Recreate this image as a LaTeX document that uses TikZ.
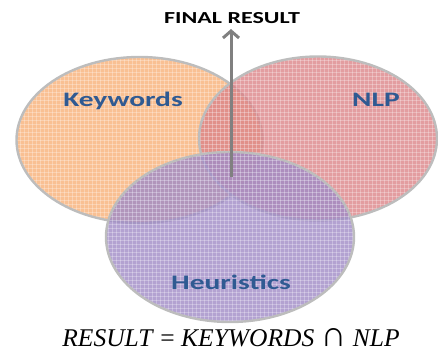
\documentclass[tikz,border=0pt]{standalone}
\usepackage{fontspec}
\setmainfont{Liberation Serif}
\newfontfamily\labelfont{Carlito}
\usetikzlibrary{arrows.meta}

\definecolor{kwfill}{HTML}{F8B078}
\definecolor{nlpfill}{HTML}{DC8488}
\definecolor{heufill}{HTML}{A08BC6}
\definecolor{rimgray}{HTML}{BDBDBD}
\definecolor{labelblue}{HTML}{2F5A92}
\definecolor{arrowgray}{HTML}{808080}

\tikzset{
  setarea/.style={fill=#1, fill opacity=0.8, draw=none},
  setrim/.style={draw=rimgray, line width=2.4pt},
  gridline/.style={draw=white, draw opacity=0.28, line width=0.7pt},
  setlabel/.style={font=\labelfont\bfseries\fontsize{20.6}{24}\selectfont,
                   text=labelblue, xscale=1.43, anchor=base, inner sep=0pt},
  titlelabel/.style={font=\labelfont\bfseries\fontsize{16.8}{20}\selectfont,
                     text=black, xscale=1.43, anchor=base, inner sep=0pt},
  formula/.style={font=\fontsize{25.5}{30}\selectfont, anchor=base, inner sep=0pt},
  resultarrow/.style={draw=arrowgray, line width=3pt,
                      -{Straight Barb[length=7pt,width=16pt]}}
}

% one hatched set: fill, light grid clipped to the ellipse, then the rim
\newcommand\hatchedset[4]{%
  \path[setarea=#4] (#1) ellipse [x radius=#2, y radius=#3];
  \begin{scope}
    \clip (#1) ellipse [x radius=#2, y radius=#3];
    \foreach \gx in {0,4,...,440} \draw[gridline] (\gx,0) -- (\gx,353);
    \foreach \gy in {0,4,...,356} \draw[gridline] (0,\gy) -- (438,\gy);
  \end{scope}
  \draw[setrim] (#1) ellipse [x radius=#2, y radius=#3];
}

\begin{document}
\begin{tikzpicture}[x=1pt,y=-1pt]
  \useasboundingbox (0,0) rectangle (438,353);

  \coordinate (kwc) at (139.5,140);
  \coordinate (nlpc) at (318,138.5);
  \coordinate (heuc) at (230,237);

  \hatchedset{kwc}{123}{83}{kwfill}
  \hatchedset{nlpc}{119}{82}{nlpfill}
  \hatchedset{heuc}{124}{85}{heufill}

  \node[setlabel] (kw) at (123,106) {Keywords};
  \node[setlabel] (nlp) at (376,106) {NLP};
  \node[setlabel] (heu) at (231,289) {Heuristics};

  \node[titlelabel] (final) at (232,24) {FINAL RESULT};

  \coordinate (core) at (231,177);
  \coordinate (tip) at (231,29);
  \draw[resultarrow] (core) -- (tip);

  \node[formula] (eq) at (231,346)
    {\textit{RESULT} = \textit{KEYWORDS} \scalebox{1.4}{∩} \textit{NLP}};
\end{tikzpicture}
\end{document}
